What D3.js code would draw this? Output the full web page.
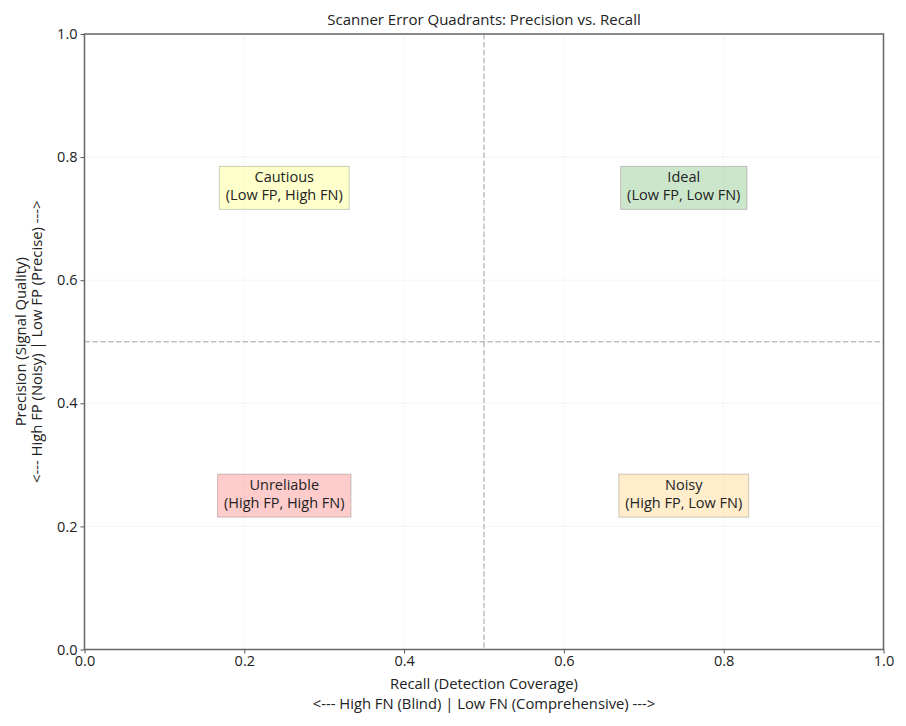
<!DOCTYPE html>
<html><head><meta charset="utf-8">
<script src="https://cdn.jsdelivr.net/npm/d3@7"></script>
<style>body{margin:0;background:#fff;} text{font-family:"Open Sans","Noto Sans",sans-serif;fill:#222;}</style>
</head><body><svg id="c" width="906" height="726"></svg>
<script>
const title = "Scanner Error Quadrants: Precision vs. Recall";
const xTicks = [0, 0.2, 0.4, 0.6, 0.8, 1.0];
const yTicks = [0, 0.2, 0.4, 0.6, 0.8, 1.0];
const thresholdX = 0.5, thresholdY = 0.5;
const quadNames = ["Cautious", "Ideal", "Unreliable", "Noisy"];
const quadSub = ["(Low FP, High FN)", "(Low FP, Low FN)", "(High FP, High FN)", "(High FP, Low FN)"];
const quadX = [0.25, 0.75, 0.25, 0.75];
const quadY = [0.75, 0.75, 0.25, 0.25];
const quadColors = ["yellow", "green", "red", "orange"];
const xLabel = ["Recall (Detection Coverage)", "<--- High FN (Blind) | Low FN (Comprehensive) --->"];
const yLabel = ["Precision (Signal Quality)", "<--- High FP (Noisy) | Low FP (Precise) --->"];

const svg = d3.select("#c");
const L = 84.5, R = 883.5, T = 34, B = 649.5;
const x = d3.scaleLinear().domain([0,1]).range([L,R]);
const y = d3.scaleLinear().domain([0,1]).range([B,T]);

// grid
svg.append("g").selectAll("line").data(xTicks).join("line")
  .attr("x1", d=>x(d)).attr("x2", d=>x(d)).attr("y1", T).attr("y2", B)
  .attr("stroke", "#b0b0b0").attr("stroke-opacity", 0.4).attr("stroke-width", 0.8).attr("stroke-dasharray", "1,1.6");
svg.append("g").selectAll("line").data(yTicks).join("line")
  .attr("y1", d=>y(d)).attr("y2", d=>y(d)).attr("x1", L).attr("x2", R)
  .attr("stroke", "#b0b0b0").attr("stroke-opacity", 0.4).attr("stroke-width", 0.8).attr("stroke-dasharray", "1,1.6");

// threshold lines
svg.append("line").attr("x1", x(thresholdX)).attr("x2", x(thresholdX)).attr("y1", T).attr("y2", B)
  .attr("stroke", "#808080").attr("stroke-opacity", 0.5).attr("stroke-width", 1.5).attr("stroke-dasharray", "5.5,2.4");
svg.append("line").attr("y1", y(thresholdY)).attr("y2", y(thresholdY)).attr("x1", L).attr("x2", R)
  .attr("stroke", "#808080").attr("stroke-opacity", 0.5).attr("stroke-width", 1.5).attr("stroke-dasharray", "5.5,2.4");

// quadrant boxes
quadNames.forEach((n, i) => {
  const g = svg.append("g");
  const rect = g.append("rect");
  const t = g.append("text").attr("text-anchor", "middle").attr("font-size", 14.5);
  t.append("tspan").attr("x", x(quadX[i])).attr("y", y(quadY[i]) - 6).text(n);
  t.append("tspan").attr("x", x(quadX[i])).attr("y", y(quadY[i]) + 12.5).text(quadSub[i]);
  const bb = t.node().getBBox();
  const pad = 6.5;
  const h = 43;
  rect.attr("x", bb.x - pad).attr("y", y(quadY[i]) - h/2).attr("width", bb.width + 2*pad).attr("height", h)
    .attr("fill", quadColors[i]).attr("fill-opacity", 0.2)
    .attr("stroke", "#000").attr("stroke-opacity", 0.2).attr("stroke-width", 1);
});

// axes
const xAxis = svg.append("g").attr("transform", `translate(0,${B})`)
  .call(d3.axisBottom(x).tickValues(xTicks).tickFormat(d3.format(".1f")).tickSize(4).tickPadding(2));
const yAxis = svg.append("g").attr("transform", `translate(${L},0)`)
  .call(d3.axisLeft(y).tickValues(yTicks).tickFormat(d3.format(".1f")).tickSize(4).tickPadding(3));
[xAxis, yAxis].forEach(a => {
  a.select(".domain").remove();
  a.selectAll("text").attr("font-size", 14.5).attr("fill", "#222").style("font-family", "'Open Sans', sans-serif");
  a.selectAll("line").attr("stroke", "#555");
});
// frame
svg.append("rect").attr("x", L).attr("y", T).attr("width", R-L).attr("height", B-T)
  .attr("fill", "none").attr("stroke", "#666").attr("stroke-width", 1.5);

// title
svg.append("text").attr("x", (L+R)/2).attr("y", 25).attr("text-anchor", "middle").attr("font-size", 15).text(title);

// x label
xLabel.forEach((s, i) => {
  svg.append("text").attr("x", (L+R)/2).attr("y", 689 + i*19.5).attr("text-anchor", "middle").attr("font-size", 14.8).text(s);
});
// y label
yLabel.forEach((s, i) => {
  svg.append("text").attr("transform", `translate(${26 + i*16},${(T+B)/2}) rotate(-90)`)
    .attr("text-anchor", "middle").attr("font-size", 14.8).text(s);
});
</script></body></html>
